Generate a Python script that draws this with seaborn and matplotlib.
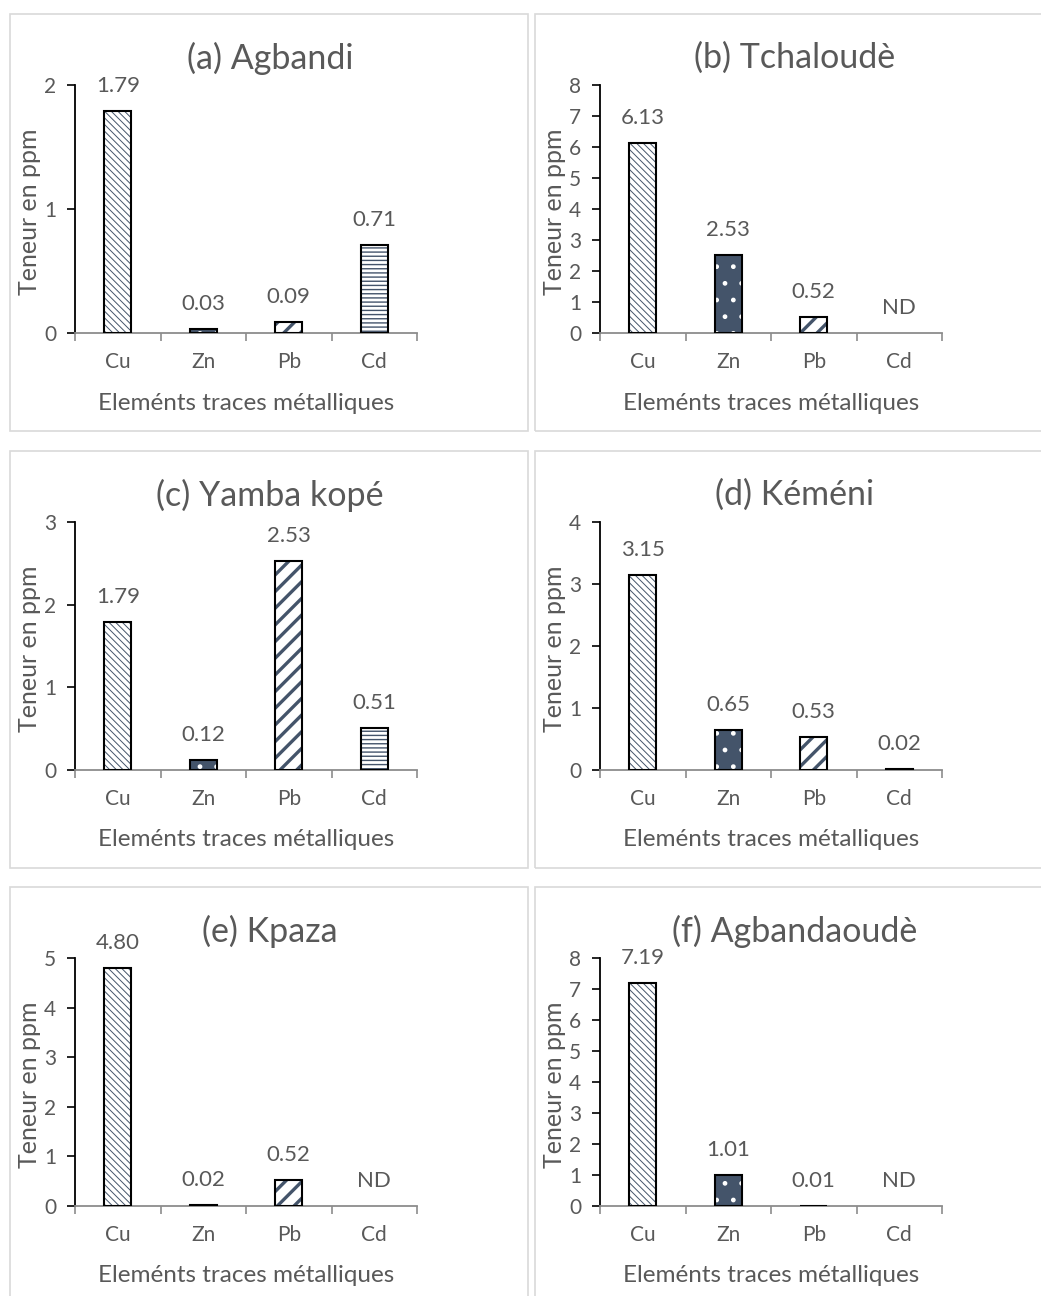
import numpy as np
import pandas as pd
import seaborn as sns
import matplotlib.pyplot as plt
from matplotlib.patches import Rectangle

# données (ppm) ; nan = ND
elements = ['Cu', 'Zn', 'Pb', 'Cd']
titles = ['(a) Agbandi', '(b) Tchaloudè', '(c) Yamba kopé',
          '(d) Kéméni', '(e) Kpaza', '(f) Agbandaoudè']
agbandi = [1.79, 0.03, 0.09, 0.71]
tchaloude = [6.13, 2.53, 0.52, np.nan]
yamba_kope = [1.79, 0.12, 2.53, 0.51]
kemeni = [3.15, 0.65, 0.53, 0.02]
kpaza = [4.80, 0.02, 0.52, np.nan]
agbandaoude = [7.19, 1.01, 0.01, np.nan]
y_max = [2, 8, 3, 4, 5, 8]
series = [agbandi, tchaloude, yamba_kope, kemeni, kpaza, agbandaoude]

sns.set_theme(style='white')
plt.rcParams['font.family'] = ['Lato', 'DejaVu Sans']
TXT = '#595959'
NAVY = '#44546A'

# style par élément : (fond, hachure, couleur hachure, épaisseur hachure)
bar_style = {
    'Cu': ('white', '\\\\\\\\\\', NAVY, 0.7),
    'Zn': (NAVY, '.', 'white', 1.0),
    'Pb': ('white', '//', NAVY, 2.4),
    'Cd': ('white', '----', NAVY, 1.0),
}

W, H = 1041, 1296
fig = plt.figure(figsize=(W / 100, H / 100), dpi=100)

def fx(px):
    return px / W

def fy(py):
    return 1 - py / H

col_off = [0, 525]
row_off = [0, 437, 873]

# cadres des graphiques
for r in range(3):
    for c in range(2):
        x0, x1 = 10 + col_off[c], 528 + col_off[c]
        y0, y1 = 14 + row_off[r], 431 + row_off[r]
        fig.patches.append(Rectangle((fx(x0), fy(y1)), fx(x1 - x0), (y1 - y0) / H,
                                     transform=fig.transFigure, fill=False,
                                     edgecolor='#D9D9D9', lw=1.2, zorder=0))

for i, (vals, title) in enumerate(zip(series, titles)):
    r, c = divmod(i, 2)
    dx, dy = col_off[c], row_off[r]
    left, right, top, bottom = 75 + dx, 417 + dx, 85 + dy, 333 + dy
    ax = fig.add_axes([fx(left), fy(bottom), fx(right - left), (bottom - top) / H])

    df = pd.DataFrame({'element': elements, 'value': vals})
    df['plot'] = df['value'].fillna(0)
    sns.barplot(data=df, x='element', y='plot', ax=ax, width=0.32,
                color=NAVY, saturation=1)

    for p, el, v in zip(ax.patches, elements, df['value']):
        face, hatch, hcol, hlw = bar_style[el]
        if np.isnan(v):
            p.set_visible(False)
            lab = 'ND'
            yv = 0
        else:
            p.set_facecolor(face)
            p.set_edgecolor(hcol)
            p.set_hatch(hatch)
            p.set_linewidth(0)
            if hasattr(p, 'set_hatch_linewidth'):
                p.set_hatch_linewidth(hlw)
            else:
                p._hatch_linewidth = hlw
            ax.add_patch(Rectangle(p.get_xy(), p.get_width(), p.get_height(),
                                   fill=False, edgecolor='black', lw=1.5, zorder=3))
            lab = f'{v:.2f}'
            yv = v
        ax.annotate(lab, (p.get_x() + p.get_width() / 2, yv), xytext=(0, 18),
                    textcoords='offset points', ha='center', va='center',
                    fontsize=16, color=TXT, annotation_clip=False)

    ax.set_xlim(-0.5, 3.5)
    ax.set_ylim(0, y_max[i])
    ax.set_yticks(range(0, y_max[i] + 1))
    ax.set_xticks(range(4))
    ax.set_xticks(np.arange(-0.5, 4, 1), minor=True)
    ax.set_xticklabels(elements)
    ax.set_xlabel('')
    ax.set_ylabel('')
    ax.patch.set_alpha(0)
    for s in ['top', 'right']:
        ax.spines[s].set_visible(False)
    ax.spines['left'].set_color('black')
    ax.spines['left'].set_linewidth(1.3)
    ax.spines['bottom'].set_color('#8C8C8C')
    ax.spines['bottom'].set_linewidth(1.3)
    ax.tick_params(axis='y', left=True, length=5.5, width=1.2, color='black',
                   pad=8, labelsize=15, labelcolor=TXT)
    ax.tick_params(axis='x', which='major', bottom=False, length=0, pad=14,
                   labelsize=15, labelcolor=TXT)
    ax.tick_params(axis='x', which='minor', bottom=True, length=5.5, width=1.2,
                   color='#8C8C8C')

    fig.text(fx(270 + dx), fy(58 + dy), title, ha='center', va='center',
             fontsize=24.5, color=TXT)
    fig.text(fx(30 + dx), fy(212 + dy), 'Teneur en ppm', rotation=90,
             ha='center', va='center', fontsize=18, color=TXT)
    fig.text(fx((left + right) / 2), fy(403 + dy), 'Eleménts traces métalliques',
             ha='center', va='center', fontsize=17.5, color=TXT)

fig.savefig('out.png', dpi=100)
